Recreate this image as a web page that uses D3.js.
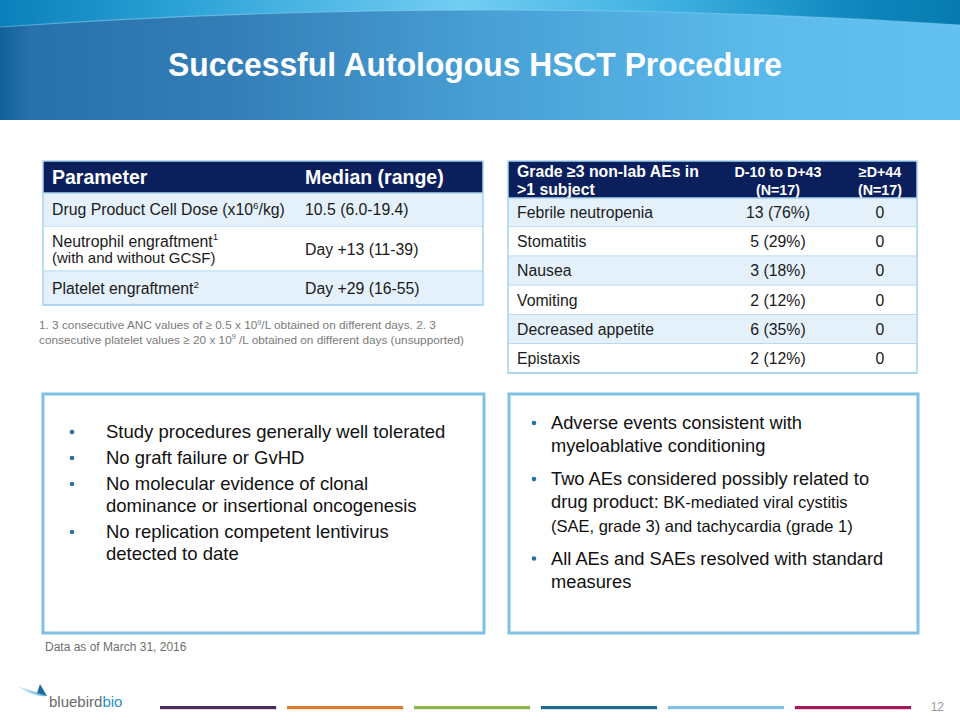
<!DOCTYPE html>
<html><head><meta charset="utf-8">
<script src="https://cdn.jsdelivr.net/npm/d3@7/dist/d3.min.js"></script>
<style>body{margin:0;background:#fff}svg{display:block}text{font-family:"Liberation Sans",Arial,sans-serif}</style>
</head><body><svg id="c" width="960" height="720"></svg>
<script>
// ---------------- DATA ----------------
const title = "Successful Autologous HSCT Procedure";
const t1Header = ["Parameter", "Median (range)"];
const t1Params = [["Drug Product Cell Dose (x10^{6}/kg)"], ["Neutrophil  engraftment^{1}", "(with and without GCSF)"], ["Platelet  engraftment^{2}"]];
const t1Medians = ["10.5 (6.0-19.4)", "Day +13 (11-39)", "Day +29 (16-55)"];
const t1Units = [1, 1.33, 1];
const footnotes = ["1. 3 consecutive ANC values of \u2265 0.5 x 10^{9}/L obtained on different days. 2. 3",
                   "consecutive platelet values \u2265 20 x  10^{9} /L obtained on different days (unsupported)"];
const aeHeader = [["Grade \u22653 non-lab AEs in", ">1 subject"], ["D-10 to D+43", "(N=17)"], ["\u2265D+44", "(N=17)"]];
const aeNames = ["Febrile neutropenia", "Stomatitis", "Nausea", "Vomiting", "Decreased appetite", "Epistaxis"];
const aeEarlyN = [13, 5, 3, 2, 6, 2];
const aeEarlyPct = [76, 29, 18, 12, 35, 12];
const aeLate = [0, 0, 0, 0, 0, 0];
const leftBullets = [["Study procedures generally well tolerated"], ["No graft failure or GvHD"],
  ["No molecular evidence of clonal", "dominance or insertional oncogenesis"],
  ["No replication competent lentivirus", "detected to date"]];
const rightBullets = [["Adverse events consistent with", "myeloablative conditioning"],
  ["Two AEs considered possibly related to", "drug product:| BK-mediated viral cystitis", "|(SAE, grade 3) and tachycardia (grade 1)"],
  ["All AEs and SAEs resolved with standard", "measures"]];
const dataNote = "Data as of March 31, 2016";
const footerColors = ["#4a2b5f", "#e07a2b", "#8bb54b", "#1c6a90", "#80c2e3", "#a4195b"];
const pageNum = "12";

// ---------------- HELPERS ----------------
const svg = d3.select("#c");
const defs = svg.append("defs");
function rich(textSel, str, size) {
  const parts = str.split(/\^\{([^}]*)\}/);
  let pendingDy = 0;
  parts.forEach((p, i) => {
    if (i % 2 === 1) {
      textSel.append("tspan").attr("font-size", size * 0.62).attr("dy", -size * 0.38).text(p);
      pendingDy = size * 0.38;
    } else if (p !== "") {
      const t = textSel.append("tspan").text(p);
      if (pendingDy) { t.attr("dy", pendingDy); pendingDy = 0; }
    }
  });
  return textSel;
}

// ---------------- HEADER ----------------
const g1 = defs.append("linearGradient").attr("id", "hdr");
[[0, "#12609a"], [0.03, "#2671ab"], [0.25, "#357fb8"], [0.5, "#479fd3"], [0.8, "#5cbbec"], [1, "#62c1f1"]]
  .forEach(s => g1.append("stop").attr("offset", s[0]).attr("stop-color", s[1]));
const g2 = defs.append("linearGradient").attr("id", "band");
[[0, "#0a7fba"], [0.2, "#2fa4d8"], [0.48, "#72cdf3"], [0.7, "#3db0e0"], [0.9, "#0d86bd"], [1, "#077bb0"]]
  .forEach(s => g2.append("stop").attr("offset", s[0]).attr("stop-color", s[1]));
const W = 960;
svg.append("rect").attr("x", 0).attr("y", 0).attr("width", W).attr("height", 120).attr("fill", "url(#hdr)");
const curve = d3.path();
curve.moveTo(0, 0); curve.lineTo(W, 0); curve.lineTo(W, 25);
curve.quadraticCurveTo(W / 2, -6, 0, 27); curve.closePath();
svg.append("path").attr("d", curve.toString()).attr("fill", "url(#band)");
const edge = d3.path(); edge.moveTo(0, 27); edge.quadraticCurveTo(W / 2, -6, W, 25);
svg.append("path").attr("d", edge.toString()).attr("fill", "none").attr("stroke", "#9fdcf6").attr("stroke-opacity", 0.45).attr("stroke-width", 1.2);
svg.append("text").attr("x", 475).attr("y", 76).attr("text-anchor", "middle")
  .attr("font-size", 32.5).attr("font-weight", "bold").attr("fill", "#fff")
  .attr("textLength", 614).attr("lengthAdjust", "spacingAndGlyphs").text(title);

// ---------------- TABLE 1 ----------------
const navy = "#0b1f5d", light = "#e5f1fa", lineC = "#a7d3ee";
const t1x0 = 43, t1x1 = 483, t1col = 297;
const bodyFs = 15.8;
svg.append("rect").attr("x", t1x0).attr("y", 161).attr("width", t1x1 - t1x0).attr("height", 32).attr("fill", navy);
[t1x0 + 9, t1col + 8].forEach((x, i) => svg.append("text").attr("x", x).attr("y", 184)
  .attr("font-size", 19.5).attr("font-weight", "bold").attr("fill", "#fff").text(t1Header[i]));
const cum = [0]; t1Units.forEach(u => cum.push(cum[cum.length - 1] + u));
const y1 = d3.scaleLinear().domain([0, cum[cum.length - 1]]).range([193, 305]);
t1Params.forEach((lines, i) => {
  const ya = y1(cum[i]), yb = y1(cum[i + 1]), ym = (ya + yb) / 2;
  svg.append("rect").attr("x", t1x0).attr("y", ya).attr("width", t1x1 - t1x0).attr("height", yb - ya)
    .attr("fill", i % 2 === 0 ? light : "#fff");
  lines.forEach((l, j) => {
    const off = (j - (lines.length - 1) / 2) * 16;
    const fs = j === 0 ? bodyFs : 15;
    rich(svg.append("text").attr("x", t1x0 + 9).attr("y", ym + off + 5.5).attr("font-size", fs).attr("fill", "#1a1a1a"), l, fs);
  });
  svg.append("text").attr("x", t1col + 8).attr("y", ym + 5.5).attr("font-size", bodyFs).attr("fill", "#1a1a1a").text(t1Medians[i]);
  svg.append("line").attr("x1", t1x0).attr("x2", t1x1).attr("y1", yb).attr("y2", yb).attr("stroke", lineC).attr("stroke-width", 1.5);
});
svg.append("line").attr("x1", t1x0).attr("x2", t1x1).attr("y1", 193).attr("y2", 193).attr("stroke", lineC).attr("stroke-width", 1.5);
svg.append("rect").attr("x", t1x0).attr("y", 161).attr("width", t1x1 - t1x0).attr("height", 144)
  .attr("fill", "none").attr("stroke", lineC).attr("stroke-width", 1.5);
footnotes.forEach((f, i) => rich(svg.append("text").attr("x", 39).attr("y", 329 + i * 14.5)
  .attr("font-size", 11.8).attr("fill", "#7a7a7a"), f, 11.8));

// ---------------- TABLE 2 ----------------
const t2x0 = 508, t2x1 = 917;
const colX = d3.scaleOrdinal().domain(["name", "early", "late"]).range([517, 778, 880]);
const colAnchor = { name: "start", early: "middle", late: "middle" };
svg.append("rect").attr("x", t2x0).attr("y", 161).attr("width", t2x1 - t2x0).attr("height", 37).attr("fill", navy);
["name", "early", "late"].forEach((c, i) => aeHeader[i].forEach((l, j) =>
  svg.append("text").attr("x", colX(c)).attr("y", 177 + j * 17.5).attr("text-anchor", colAnchor[c])
    .attr("font-size", i === 0 ? 15.8 : 14.3).attr("font-weight", "bold").attr("fill", "#fff").text(l)));
const y2 = d3.scaleBand().domain(aeNames).range([198, 373]);
const rows = svg.append("g").selectAll("g").data(aeNames).join("g").attr("transform", d => `translate(0,${y2(d)})`);
rows.append("rect").attr("x", t2x0).attr("width", t2x1 - t2x0).attr("height", y2.bandwidth())
  .attr("fill", (d, i) => i % 2 === 0 ? light : "#fff");
rows.append("line").attr("x1", t2x0).attr("x2", t2x1).attr("y1", y2.bandwidth()).attr("y2", y2.bandwidth())
  .attr("stroke", lineC).attr("stroke-width", 1.5);
const ty = y2.bandwidth() / 2 + 5.5;
rows.append("text").attr("x", colX("name")).attr("y", ty).attr("font-size", bodyFs).attr("fill", "#1a1a1a").text(d => d);
rows.append("text").attr("x", colX("early")).attr("y", ty).attr("text-anchor", "middle").attr("font-size", bodyFs).attr("fill", "#1a1a1a")
  .text((d, i) => `${aeEarlyN[i]} (${aeEarlyPct[i]}%)`);
rows.append("text").attr("x", colX("late")).attr("y", ty).attr("text-anchor", "middle").attr("font-size", bodyFs).attr("fill", "#1a1a1a")
  .text((d, i) => aeLate[i]);
svg.append("line").attr("x1", t2x0).attr("x2", t2x1).attr("y1", 198).attr("y2", 198).attr("stroke", lineC).attr("stroke-width", 1.5);
svg.append("rect").attr("x", t2x0).attr("y", 161).attr("width", t2x1 - t2x0).attr("height", 212)
  .attr("fill", "none").attr("stroke", lineC).attr("stroke-width", 1.5);

// ---------------- BOXES ----------------
const boxC = "#7fc1e3";
[[43, 484], [509, 918]].forEach(b => svg.append("rect").attr("x", b[0]).attr("y", 394).attr("width", b[1] - b[0]).attr("height", 239)
  .attr("fill", "#fff").attr("stroke", boxC).attr("stroke-width", 3));
function bullets(list, bx, tx, y0, lh, gap, fs, fsSmall) {
  let y = y0;
  list.forEach(item => {
    svg.append("circle").attr("cx", bx).attr("cy", y - 6).attr("r", 2.3).attr("fill", "#2b6f9c");
    item.forEach(l => {
      const t = svg.append("text").attr("x", tx).attr("y", y).attr("font-size", fs).attr("fill", "#111");
      const parts = l.split("|");
      if (parts[0] !== "") t.append("tspan").text(parts[0]);
      if (parts.length > 1) t.append("tspan").attr("font-size", fsSmall).text(parts[1]);
      y += lh;
    });
    y += gap;
  });
}
bullets(leftBullets, 72, 106, 438, 22, 4, 18.5, 16);
bullets(rightBullets, 534, 551, 429, 23.3, 9.5, 18.3, 16.5);
svg.append("text").attr("x", 45).attr("y", 651).attr("font-size", 12).attr("fill", "#6e6e6e").text(dataNote);

// ---------------- FOOTER ----------------
const fx = d3.scaleBand().domain(footerColors).range([160, 911]).paddingInner(0.085);
svg.append("g").selectAll("rect").data(footerColors).join("rect")
  .attr("x", d => fx(d)).attr("y", 706).attr("width", fx.bandwidth()).attr("height", 3.2).attr("fill", d => d);
svg.append("text").attr("x", 944).attr("y", 711).attr("text-anchor", "end").attr("font-size", 12).attr("fill", "#9a9a9a").text(pageNum);
// logo
const lg = defs.append("linearGradient").attr("id", "sw");
[[0, "#d6eef9"], [1, "#5fb5e0"]].forEach(s => lg.append("stop").attr("offset", s[0]).attr("stop-color", s[1]));
svg.append("path").attr("d", "M18,686 C28,690 38,692 47,696 C38,697 27,693 18,686 Z").attr("fill", "url(#sw)");
svg.append("path").attr("d", "M40,684 L47,696 L37,693 Z").attr("fill", "#1c6e9f");
const lt = svg.append("text").attr("x", 49).attr("y", 707).attr("font-size", 15).attr("font-family", "'Open Sans',Lato,sans-serif").attr("fill", "#6a6a6a");
lt.append("tspan").text("bluebird");
lt.append("tspan").attr("fill", "#2b8dca").text("bio");
</script></body></html>
